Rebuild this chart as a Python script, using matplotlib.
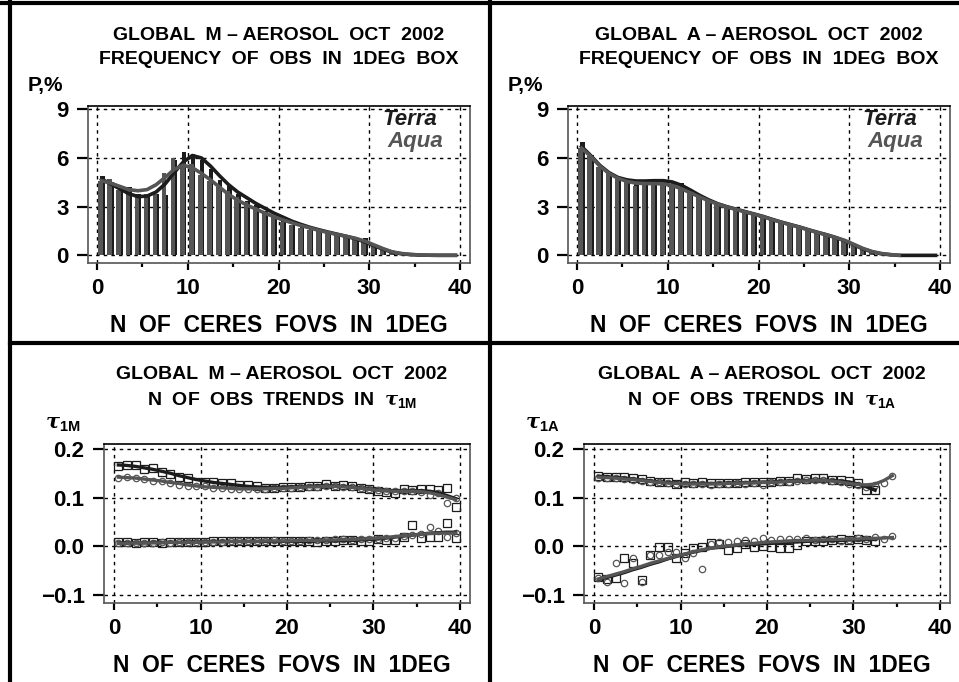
import numpy as np
import matplotlib
matplotlib.use('Agg')
import matplotlib.pyplot as plt
from matplotlib.lines import Line2D
from matplotlib.ticker import MultipleLocator

plt.rcParams['font.family'] = ['Liberation Sans', 'DejaVu Sans']
plt.rcParams['font.weight'] = 'bold'
plt.rcParams['mathtext.fontset'] = 'custom'
plt.rcParams['mathtext.it'] = 'DejaVu Serif:italic'
plt.rcParams['mathtext.rm'] = 'Liberation Sans:bold'
plt.rcParams['mathtext.bf'] = 'Liberation Sans:bold'

# bins of N (number of CERES FOVs in 1 deg box)
bins = np.arange(40)

# top left: M-aerosol frequency, %
tl_terra_bars = [4.9, 4.5, 4.05, 4.2, 3.75, 3.65, 3.75, 3.7, 5.9, 6.35, 6.25, 5.9, 5.3, 4.65, 4.25, 3.75,
                 3.35, 3.1, 2.75, 2.35, 2.1, 1.9, 1.75, 1.6, 1.65, 1.42, 1.3, 1.2, 1.1, 1.1, 0.65, 0.37,
                 0.18, 0.1, 0.06, 0.04, 0.03, 0.02, 0.01, 0.01]
tl_aqua_bars = [4.6, 4.7, 4.05, 4.15, 3.7, 3.75, 3.75, 5.05, 6.0, 5.7, 5.6, 4.95, 4.6, 4.2, 3.95, 3.6,
                3.3, 2.95, 2.7, 2.35, 2.05, 1.85, 1.7, 1.55, 1.55, 1.4, 1.28, 1.18, 1.08, 0.95, 0.62, 0.35,
                0.17, 0.1, 0.05, 0.03, 0.02, 0.01, 0.01, 0.01]
tl_terra_fit = [4.7, 4.4, 4.1, 3.8, 3.62, 3.65, 3.9, 4.4, 5.1, 5.75, 6.15, 6.0, 5.5, 4.9, 4.35, 3.9,
                3.55, 3.2, 2.9, 2.6, 2.35, 2.1, 1.9, 1.72, 1.57, 1.43, 1.3, 1.17, 1.02, 0.83, 0.6, 0.38,
                0.2, 0.1, 0.05, 0.02, 0.01, 0.0, 0.0, 0.0]
tl_aqua_fit = [4.6, 4.45, 4.25, 4.05, 3.98, 4.05, 4.35, 4.8, 5.3, 5.55, 5.4, 5.05, 4.65, 4.2, 3.75, 3.4,
               3.1, 2.85, 2.6, 2.38, 2.18, 2.0, 1.83, 1.68, 1.53, 1.4, 1.28, 1.17, 1.05, 0.88, 0.65, 0.42,
               0.22, 0.12, 0.06, 0.03, 0.01, 0.01, 0.01, 0.01]

# top right: A-aerosol frequency, %
tr_terra_bars = [7.0, 6.2, 5.45, 5.15, 4.75, 4.6, 4.5, 4.45, 4.5, 4.5, 4.58, 4.45, 3.95, 3.62, 3.4, 3.15,
                 3.0, 2.85, 2.68, 2.52, 2.38, 2.22, 2.07, 1.9, 1.82, 1.56, 1.4, 1.25, 1.1, 0.95, 0.62, 0.35,
                 0.2, 0.13, 0.07, 0.02, 0.01, 0.01, 0.01, 0.01]
tr_aqua_bars = [6.6, 6.15, 5.45, 5.1, 4.75, 4.6, 4.27, 4.44, 4.48, 4.45, 4.34, 4.13, 3.9, 3.6, 3.38, 3.15,
                2.98, 2.83, 2.68, 2.53, 2.38, 2.2, 2.05, 1.9, 1.75, 1.55, 1.4, 1.25, 1.1, 0.98, 0.64, 0.37,
                0.22, 0.15, 0.08, 0.02, 0.0, 0.0, 0.0, 0.0]
tr_terra_fit = [6.7, 6.15, 5.55, 5.1, 4.8, 4.65, 4.58, 4.58, 4.6, 4.6, 4.52, 4.32, 4.02, 3.7, 3.42, 3.18,
                3.0, 2.85, 2.7, 2.55, 2.4, 2.22, 2.05, 1.9, 1.75, 1.58, 1.42, 1.27, 1.1, 0.9, 0.65, 0.4,
                0.22, 0.1, 0.04, 0.0, 0.0, 0.0, 0.0, 0.0]
tr_aqua_fit = [6.6, 6.1, 5.5, 5.05, 4.75, 4.55, 4.45, 4.42, 4.42, 4.4, 4.3, 4.1, 3.85, 3.6, 3.36, 3.15,
               2.98, 2.83, 2.68, 2.53, 2.38, 2.2, 2.04, 1.88, 1.73, 1.57, 1.41, 1.26, 1.1, 0.92, 0.68, 0.43,
               0.24, 0.12, 0.05, 0.01]

# bottom left: tau_1M trends (upper / lower groups)
bl_terra_hi = [0.164, 0.167, 0.166, 0.158, 0.161, 0.152, 0.149, 0.143, 0.140, 0.133, 0.133, 0.131, 0.129,
               0.129, 0.126, 0.125, 0.123, 0.119, 0.120, 0.121, 0.122, 0.121, 0.123, 0.124, 0.127, 0.124,
               0.126, 0.124, 0.120, 0.118, 0.114, 0.112, 0.110, 0.117, 0.115, 0.118, 0.117, 0.116, 0.119, 0.081]
bl_aqua_hi = [0.141, 0.142, 0.141, 0.138, 0.135, 0.135, 0.129, 0.126, 0.123, 0.123, 0.123, 0.120, 0.119,
              0.118, 0.117, 0.118, 0.118, 0.117, 0.119, 0.119, 0.120, 0.121, 0.121, 0.122, 0.123, 0.124,
              0.122, 0.121, 0.119, 0.117, 0.115, 0.114, 0.113, 0.114, 0.113, 0.112, 0.106, 0.110, 0.089, 0.100]
bl_terra_lo = [0.008, 0.008, 0.007, 0.008, 0.008, 0.007, 0.008, 0.008, 0.008, 0.009, 0.009, 0.010, 0.011,
               0.011, 0.011, 0.010, 0.011, 0.010, 0.010, 0.011, 0.010, 0.010, 0.011, 0.009, 0.010, 0.011,
               0.012, 0.012, 0.011, 0.011, 0.014, 0.013, 0.013, 0.020, 0.044, 0.017, 0.020, 0.020, 0.047, 0.018]
bl_aqua_lo = [0.007, 0.007, 0.007, 0.007, 0.007, 0.008, 0.007, 0.008, 0.008, 0.008, 0.008, 0.009, 0.009,
              0.010, 0.010, 0.010, 0.011, 0.011, 0.012, 0.011, 0.011, 0.011, 0.012, 0.012, 0.013, 0.014,
              0.015, 0.013, 0.014, 0.015, 0.016, 0.018, 0.018, 0.022, 0.024, 0.026, 0.040, 0.032, 0.020, 0.027]
bl_terra_hi_fit = [0.167, 0.166, 0.164, 0.161, 0.158, 0.154, 0.150, 0.145, 0.141, 0.137, 0.134, 0.131, 0.129,
                   0.127, 0.125, 0.123, 0.122, 0.121, 0.121, 0.121, 0.122, 0.122, 0.123, 0.124, 0.124, 0.124,
                   0.123, 0.122, 0.120, 0.118, 0.116, 0.114, 0.114, 0.114, 0.114, 0.114, 0.113, 0.110, 0.104, 0.098]
bl_aqua_hi_fit = [0.142, 0.141, 0.140, 0.138, 0.136, 0.134, 0.131, 0.129, 0.126, 0.124, 0.122, 0.121, 0.120,
                  0.119, 0.118, 0.118, 0.118, 0.118, 0.119, 0.119, 0.120, 0.121, 0.122, 0.122, 0.123, 0.123,
                  0.122, 0.121, 0.119, 0.117, 0.115, 0.114, 0.113, 0.113, 0.113, 0.112, 0.110, 0.106, 0.101, 0.096]
bl_terra_lo_fit = [0.007, 0.007, 0.007, 0.007, 0.008, 0.008, 0.008, 0.008, 0.009, 0.009, 0.009, 0.010, 0.010,
                   0.010, 0.010, 0.010, 0.010, 0.010, 0.010, 0.010, 0.010, 0.010, 0.010, 0.011, 0.011, 0.011,
                   0.012, 0.012, 0.013, 0.014, 0.015, 0.017, 0.019, 0.021, 0.023, 0.025, 0.027, 0.028, 0.029, 0.029]
bl_aqua_lo_fit = [0.006, 0.006, 0.007, 0.007, 0.007, 0.007, 0.008, 0.008, 0.008, 0.008, 0.009, 0.009, 0.009,
                  0.010, 0.010, 0.010, 0.010, 0.011, 0.011, 0.011, 0.011, 0.012, 0.012, 0.012, 0.013, 0.013,
                  0.014, 0.014, 0.015, 0.016, 0.017, 0.018, 0.020, 0.022, 0.023, 0.025, 0.026, 0.027, 0.027, 0.027]

# bottom right: tau_1A trends (Terra to N=32, Aqua to N=34)
br_terra_hi = [0.145, 0.143, 0.143, 0.142, 0.140, 0.138, 0.135, 0.133, 0.131, 0.128, 0.133, 0.130, 0.131,
               0.130, 0.129, 0.129, 0.130, 0.131, 0.132, 0.131, 0.133, 0.134, 0.135, 0.140, 0.138, 0.140,
               0.140, 0.137, 0.136, 0.134, 0.129, 0.116, 0.116]
br_aqua_hi = [0.140, 0.141, 0.140, 0.139, 0.137, 0.135, 0.133, 0.131, 0.130, 0.128, 0.128, 0.127, 0.128,
              0.126, 0.127, 0.128, 0.129, 0.128, 0.130, 0.125, 0.131, 0.132, 0.133, 0.134, 0.136, 0.137,
              0.136, 0.134, 0.133, 0.128, 0.125, 0.122, 0.125, 0.130, 0.145]
br_terra_lo = [-0.064, -0.068, -0.066, -0.025, -0.034, -0.069, -0.018, -0.002, -0.002, -0.025, -0.014,
               -0.004, -0.002, 0.006, 0.005, -0.008, -0.004, 0.005, -0.001, 0.001, -0.002, -0.004, -0.004,
               0.003, 0.010, 0.010, 0.011, 0.013, 0.014, 0.012, 0.014, 0.013, 0.010]
br_aqua_lo = [-0.066, -0.073, -0.034, -0.075, -0.023, -0.073, -0.018, -0.018, -0.011, -0.011, -0.025,
              -0.013, -0.047, 0.005, 0.008, 0.009, 0.011, 0.012, 0.010, 0.018, 0.013, 0.014, 0.016, 0.016,
              0.018, 0.013, 0.014, 0.014, 0.010, 0.013, 0.018, 0.014, 0.020, 0.014, 0.021]
br_terra_hi_fit = [0.144, 0.143, 0.141, 0.140, 0.138, 0.136, 0.134, 0.132, 0.131, 0.130, 0.129, 0.129, 0.129,
                   0.129, 0.129, 0.130, 0.130, 0.131, 0.131, 0.132, 0.132, 0.133, 0.134, 0.135, 0.135, 0.136,
                   0.136, 0.135, 0.134, 0.132, 0.128, 0.122, 0.115]
br_aqua_hi_fit = [0.142, 0.141, 0.140, 0.138, 0.137, 0.135, 0.133, 0.131, 0.130, 0.129, 0.128, 0.128, 0.128,
                  0.128, 0.128, 0.129, 0.129, 0.130, 0.130, 0.131, 0.131, 0.132, 0.133, 0.134, 0.134, 0.135,
                  0.135, 0.134, 0.132, 0.129, 0.127, 0.126, 0.128, 0.135, 0.145]
br_terra_lo_fit = [-0.068, -0.064, -0.059, -0.054, -0.048, -0.043, -0.037, -0.032, -0.026, -0.021, -0.016,
                   -0.012, -0.008, -0.004, -0.002, 0.000, 0.002, 0.003, 0.004, 0.005, 0.006, 0.007, 0.008,
                   0.009, 0.010, 0.011, 0.011, 0.012, 0.012, 0.013, 0.013, 0.014, 0.014]
br_aqua_lo_fit = [-0.067, -0.062, -0.057, -0.052, -0.046, -0.041, -0.035, -0.030, -0.025, -0.020, -0.016,
                  -0.011, -0.007, -0.004, -0.001, 0.001, 0.003, 0.005, 0.006, 0.008, 0.009, 0.010, 0.011,
                  0.012, 0.012, 0.013, 0.013, 0.014, 0.014, 0.015, 0.015, 0.016, 0.016, 0.017, 0.018]

TERRA = '#1c1c1c'
AQUA = '#555555'
W, H = 959, 682


def style_axes(ax, ylim, yticks, yfmt):
    ax.set_xlim(-1.0, 41.1)
    ax.set_ylim(*ylim)
    ax.set_xticks([0, 10, 20, 30, 40])
    ax.xaxis.set_minor_locator(MultipleLocator(5))
    ax.set_yticks(yticks)
    ax.set_yticklabels([yfmt(v) for v in yticks])
    ax.grid(True, which='major', color='black', linestyle=(0, (2.5, 3)), linewidth=1.0)
    ax.tick_params(axis='y', direction='out', length=8, width=1.6, pad=6, labelsize=16)
    ax.tick_params(axis='x', which='major', direction='out', length=5, width=1.6, pad=6, labelsize=16)
    ax.tick_params(axis='x', which='minor', direction='out', length=3, width=1.6)
    for s in ax.spines.values():
        s.set_color('#555555')
        s.set_linewidth(1.2)
    ax.spines['top'].set_color('black')
    ax.set_axisbelow(True)


def freq_panel(rect, terra_b, aqua_b, terra_f, aqua_f, letter, xoff):
    ax = fig.add_axes(rect)
    ax.bar(bins + 0.32, terra_b, width=0.5, align='edge', color=TERRA, zorder=2)
    ax.bar(bins + 0.14, aqua_b, width=0.5, align='edge', color=AQUA, zorder=3)
    ax.plot(bins[:len(terra_f)] + 0.5, terra_f, color=TERRA, lw=2.6, zorder=4)
    ax.plot(bins[:len(aqua_f)] + 0.5, aqua_f, color=AQUA, lw=2.6, zorder=5)
    style_axes(ax, (-0.47, 9.2), [0, 3, 6, 9], lambda v: '%d' % v)
    ax.text(0.915, 0.915, 'Terra', transform=ax.transAxes, ha='right', va='center',
            color=TERRA, fontsize=16, fontstyle='italic', fontweight='bold')
    ax.text(0.93, 0.775, 'Aqua', transform=ax.transAxes, ha='right', va='center',
            color=AQUA, fontsize=16, fontstyle='italic', fontweight='bold')
    cx = (xoff + 279) / W
    fig.text(cx, 1 - 35 / H, 'GLOBAL  %s – AEROSOL  OCT  2002' % letter, ha='center', va='center', fontsize=14)
    fig.text(cx, 1 - 60 / H, 'FREQUENCY  OF  OBS  IN  1DEG  BOX', ha='center', va='center', fontsize=14)
    fig.text((xoff + 28) / W, 1 - 85 / H, 'P,%', ha='left', va='center', fontsize=15)
    fig.text(cx, 1 - 326 / H, 'N  OF  CERES  FOVS  IN  1DEG', ha='center', va='center', fontsize=16.5)
    return ax


def trend_panel(rect, series, letter, xoff):
    ax = fig.add_axes(rect)
    for vals, fit, col, mk, ms in series:
        x = bins[:len(vals)] + 0.5
        ax.plot(x, vals, linestyle='none', marker=mk, markersize=ms, markerfacecolor='none',
                markeredgecolor=col, markeredgewidth=0.9, zorder=3)
        ax.plot(bins[:len(fit)] + 0.5, fit, color=col, lw=2.4, zorder=4)
    style_axes(ax, (-0.1164, 0.21), [-0.1, 0.0, 0.1, 0.2], lambda v: ('%.1f' % v).replace('-', '\u2212'))
    ax.set_xlim(-1.16, 41.16)
    cx = (xoff + 282) / W
    fig.text(cx, 1 - 375 / H, 'GLOBAL  %s – AEROSOL  OCT  2002' % letter, ha='center', va='center', fontsize=14)
    fig.text(cx, 1 - 400 / H, 'N  OF  OBS  TRENDS  IN  $\\tau_{\\rm 1%s}$' % letter, ha='center', va='center',
             fontsize=14)
    fig.text((xoff + 45) / W, 1 - 425 / H, '$\\tau_{\\rm 1%s}$' % letter, ha='left', va='center', fontsize=15)
    fig.text(cx, 1 - 666 / H, 'N  OF  CERES  FOVS  IN  1DEG', ha='center', va='center', fontsize=16.5)
    return ax


fig = plt.figure(figsize=(W / 100, H / 100), dpi=100)

freq_panel([88 / W, 1 - 263 / H, 382 / W, 157 / H], tl_terra_bars, tl_aqua_bars, tl_terra_fit, tl_aqua_fit, 'M', 0)
freq_panel([568 / W, 1 - 263 / H, 382 / W, 157 / H], tr_terra_bars, tr_aqua_bars, tr_terra_fit, tr_aqua_fit, 'A', 480)

trend_panel([104 / W, 1 - 603 / H, 366 / W, 159 / H],
            [(bl_terra_hi, bl_terra_hi_fit, TERRA, 's', 5.2), (bl_aqua_hi, bl_aqua_hi_fit, AQUA, 'o', 4.6),
             (bl_terra_lo, bl_terra_lo_fit, TERRA, 's', 5.2), (bl_aqua_lo, bl_aqua_lo_fit, AQUA, 'o', 4.6)],
            'M', 0)
trend_panel([584 / W, 1 - 603 / H, 366 / W, 159 / H],
            [(br_terra_hi, br_terra_hi_fit, TERRA, 's', 5.2), (br_aqua_hi, br_aqua_hi_fit, AQUA, 'o', 4.6),
             (br_terra_lo, br_terra_lo_fit, TERRA, 's', 5.2), (br_aqua_lo, br_aqua_lo_fit, AQUA, 'o', 4.6)],
            'A', 480)

# panel frame lines
for xs, ys in [((10, 10), (0, H)), ((490, 490), (0, H)), ((0, W), (3, 3)), ((10, W), (343, 343))]:
    fig.add_artist(Line2D([x / W for x in xs], [1 - y / H for y in ys], color='black', lw=3))

fig.savefig('out.png', dpi=100)
